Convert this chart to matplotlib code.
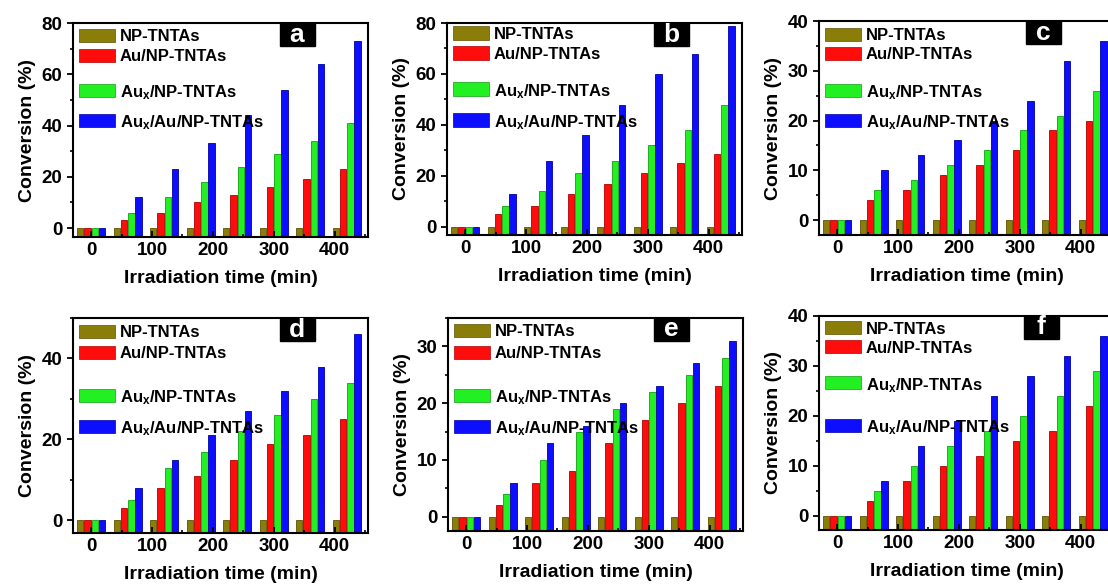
import matplotlib
matplotlib.use('Agg')
import matplotlib.pyplot as plt
import numpy as np
from matplotlib.ticker import MultipleLocator
from matplotlib.patches import Rectangle

plt.rcParams['font.family'] = ['Liberation Sans', 'DejaVu Sans']
plt.rcParams['font.weight'] = 'bold'
plt.rcParams['mathtext.fontset'] = 'custom'
plt.rcParams['mathtext.rm'] = 'Liberation Sans:bold'
plt.rcParams['mathtext.bf'] = 'Liberation Sans:bold'
plt.rcParams['mathtext.it'] = 'Liberation Sans:bold'

# irradiation times (min)
times = [0, 60, 120, 180, 240, 300, 360, 420]
series = ['NP-TNTAs', 'Au/NP-TNTAs', r'Au$_\mathbf{x}$/NP-TNTAs', r'Au$_\mathbf{x}$/Au/NP-TNTAs']
colors = ['#8a7d0a', '#ff0d0d', '#22f022', '#0d0dff']
edges = ['#5c5200', '#b00000', '#10a010', '#0000a0']

np_zero = [0, 0, 0, 0, 0, 0, 0, 0]

a_red = [0, 3, 6, 10, 13, 16, 19, 23]
a_green = [0, 6, 12, 18, 24, 29, 34, 41]
a_blue = [0, 12, 23, 33, 44, 54, 64, 73]

b_red = [0, 5, 8, 13, 17, 21, 25, 28.5]
b_green = [0, 8, 14, 21, 26, 32, 38, 48]
b_blue = [0, 13, 26, 36, 48, 60, 68, 79]

c_red = [0, 4, 6, 9, 11, 14, 18, 20]
c_green = [0, 6, 8, 11, 14, 18, 21, 26]
c_blue = [0, 10, 13, 16, 20, 24, 32, 36]

d_red = [0, 3, 8, 11, 15, 19, 21, 25]
d_green = [0, 5, 13, 17, 22, 26, 30, 34]
d_blue = [0, 8, 15, 21, 27, 32, 38, 46]

e_red = [0, 2, 6, 8, 13, 17, 20, 23]
e_green = [0, 4, 10, 15, 19, 22, 25, 28]
e_blue = [0, 6, 13, 16, 20, 23, 27, 31]

f_red = [0, 3, 7, 10, 12, 15, 17, 22]
f_green = [0, 5, 10, 14, 17, 20, 24, 29]
f_blue = [0, 7, 14, 19, 24, 28, 32, 36]

panels = [
    ('a', [np_zero, a_red, a_green, a_blue], (-3.5, 80), 20),
    ('b', [np_zero, b_red, b_green, b_blue], (-3.2, 80), 20),
    ('c', [np_zero, c_red, c_green, c_blue], (-3.0, 40), 10),
    ('d', [np_zero, d_red, d_green, d_blue], (-3.1, 50), 20),
    ('e', [np_zero, e_red, e_green, e_blue], (-2.5, 35), 10),
    ('f', [np_zero, f_red, f_green, f_blue], (-2.8, 40), 10),
]

# axes boxes in pixels: left, top, bottom
W, H = 1108, 584
boxes = [(73, 23, 237), (447, 23, 235), (819, 21, 235),
         (73, 318, 533), (448, 318, 531), (819, 316, 530)]
ax_w = 295
# legend row centres, px below the top spine
key_rows = [[12, 32, 67, 97], [10, 30, 66, 97], [13, 32, 69, 99],
            [13, 34, 77, 108], [12, 34, 77, 108], [12, 31, 67, 109]]
# letter box centres, px from the left spine
tag_x = [224, 224, 224, 224, 223, 222]

fig = plt.figure(figsize=(W / 100, H / 100), dpi=100)

offsets = [-18, -6, 6, 18]
bw = 10.5
t = np.array(times)

for (letter, data, ylim, major), (l, top, bot), rows, tx in zip(panels, boxes, key_rows, tag_x):
    ax_h = bot - top
    ax = fig.add_axes([l / W, 1 - bot / H, ax_w / W, ax_h / H])
    ymin = ylim[0]
    for vals, off, c, ec in zip(data, offsets, colors, edges):
        v = np.array(vals, dtype=float)
        ax.bar(t + off, v - ymin, bottom=ymin, width=bw, color=c,
               edgecolor=ec, linewidth=0.6)
    ax.set_xlim(-30, 455)
    ax.set_ylim(*ylim)
    ax.set_xticks([0, 100, 200, 300, 400])
    ax.xaxis.set_minor_locator(MultipleLocator(50))
    ax.yaxis.set_major_locator(MultipleLocator(major))
    ax.yaxis.set_minor_locator(MultipleLocator(major / 2))
    ax.tick_params(axis='both', which='major', labelsize=13.5, length=4, width=1.3)
    ax.tick_params(axis='both', which='minor', length=2.5, width=1.2)
    ax.tick_params(axis='x', which='both', direction='in')
    for sp in ax.spines.values():
        sp.set_linewidth(1.5)
    for lbl in ax.get_xticklabels() + ax.get_yticklabels():
        lbl.set_fontweight('bold')
    ax.set_xlabel('Irradiation time (min)', fontsize=14, fontweight='bold', labelpad=8)
    ax.set_ylabel('Conversion (%)', fontsize=14, fontweight='bold', labelpad=4)

    # key: wide colour swatches with bold labels
    for yc, c, ec, lab in zip(rows, colors, edges, series):
        ax.add_patch(Rectangle((6 / ax_w, 1 - (yc + 6.5) / ax_h), 36 / ax_w, 13 / ax_h,
                               transform=ax.transAxes, facecolor=c, edgecolor=ec,
                               linewidth=0.5, clip_on=False, zorder=5))
        ax.text(47 / ax_w, 1 - yc / ax_h, lab, transform=ax.transAxes,
                ha='left', va='center_baseline', fontsize=12, fontweight='bold', zorder=5)

    # panel tag: white letter on a black box touching the top spine
    ax.add_patch(Rectangle(((tx - 17.5) / ax_w, 1 - 23 / ax_h), 35 / ax_w, 23 / ax_h,
                           transform=ax.transAxes, facecolor='black', edgecolor='black',
                           zorder=6))
    ax.text(tx / ax_w, 1 - 11.5 / ax_h, letter, transform=ax.transAxes, ha='center',
            va='center', color='white', fontsize=19, fontweight='bold', zorder=7)

fig.savefig('out.png', dpi=100)
plt.close(fig)
